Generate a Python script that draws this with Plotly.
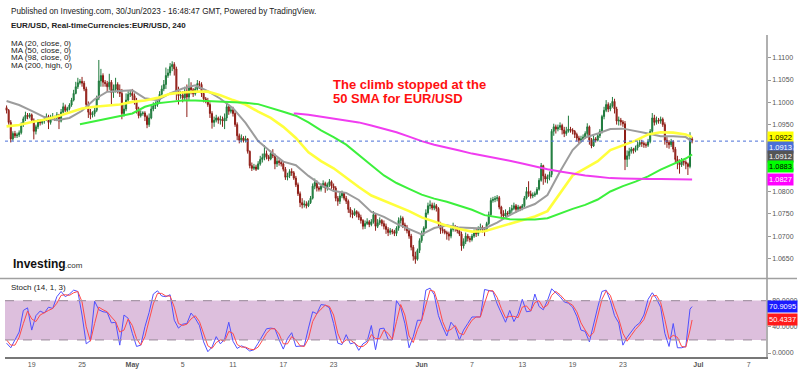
import pandas as pd
import plotly.graph_objects as go

# ---------------- data ----------------
first_open = 1.0988
closes = [
    1.0982, 1.0955, 1.0918, 1.0930, 1.0925, 1.0927,  # Apr 17
    1.0932, 1.0950, 1.0963, 1.0971, 1.0968, 1.0972,
    1.0960, 1.0935, 1.0945, 1.0958, 1.0954, 1.0958,
    1.0962, 1.0968, 1.0955, 1.0966, 1.0968, 1.0965,
    1.0972, 1.0958, 1.0978, 1.0990, 1.0982, 1.0986,
    1.0994, 1.1005, 1.1020, 1.1035, 1.1044, 1.1047,  # Apr 24
    1.1043, 1.1030, 1.0995, 1.0978, 1.0972, 1.0975,
    1.0982, 1.1010, 1.1048, 1.1060, 1.1045, 1.1042,
    1.1035, 1.1045, 1.1022, 1.1030, 1.1040, 1.1028,
    1.1020, 1.0975, 1.0985, 1.1005, 1.1018, 1.1020,
    1.1015, 1.1005, 1.0985, 1.0970, 1.0975, 1.0976,  # May 1
    1.0968, 1.0950, 1.0965, 1.0985, 1.0992, 1.0995,
    1.1005, 1.1018, 1.1030, 1.1040, 1.1060, 1.1066,
    1.1080, 1.1085, 1.1075, 1.1025, 1.1015, 1.1016,
    1.1010, 1.1025, 1.1012, 1.1035, 1.1028, 1.1019,
    1.1030, 1.1042, 1.1040, 1.1020, 1.1008, 1.1004,  # May 8
    1.0995, 1.0975, 1.0955, 1.0960, 1.0965, 1.0960,
    1.0962, 1.0958, 1.0965, 1.0990, 1.0980, 1.0983,
    1.0975, 1.0950, 1.0925, 1.0915, 1.0920, 1.0914,
    1.0918, 1.0890, 1.0858, 1.0852, 1.0855, 1.0850,
    1.0862, 1.0872, 1.0876, 1.0885, 1.0878, 1.0873,  # May 15
    1.0885, 1.0880, 1.0862, 1.0868, 1.0865, 1.0862,
    1.0850, 1.0832, 1.0835, 1.0845, 1.0842, 1.0830,
    1.0815, 1.0795, 1.0775, 1.0770, 1.0772, 1.0768,
    1.0775, 1.0785, 1.0812, 1.0820, 1.0808, 1.0805,
    1.0812, 1.0818, 1.0808, 1.0815, 1.0822, 1.0812,  # May 22
    1.0808, 1.0785, 1.0778, 1.0790, 1.0796, 1.0785,
    1.0778, 1.0760, 1.0752, 1.0748, 1.0755, 1.0750,
    1.0742, 1.0735, 1.0722, 1.0728, 1.0732, 1.0726,
    1.0732, 1.0748, 1.0722, 1.0730, 1.0735, 1.0728,
    1.0722, 1.0715, 1.0708, 1.0712, 1.0710, 1.0706,  # May 29
    1.0718, 1.0735, 1.0740, 1.0725, 1.0720, 1.0712,
    1.0700, 1.0675, 1.0655, 1.0648, 1.0668, 1.0690,
    1.0705, 1.0718, 1.0752, 1.0768, 1.0770, 1.0763,
    1.0768, 1.0762, 1.0728, 1.0715, 1.0712, 1.0708,
    1.0705, 1.0700, 1.0715, 1.0722, 1.0718, 1.0712,  # Jun 5
    1.0705, 1.0678, 1.0688, 1.0700, 1.0695, 1.0692,
    1.0700, 1.0710, 1.0705, 1.0715, 1.0720, 1.0715,
    1.0712, 1.0728, 1.0748, 1.0780, 1.0782, 1.0784,
    1.0786, 1.0765, 1.0750, 1.0745, 1.0752, 1.0750,
    1.0758, 1.0762, 1.0768, 1.0760, 1.0765, 1.0762,  # Jun 12
    1.0768, 1.0785, 1.0800, 1.0795, 1.0790, 1.0792,
    1.0795, 1.0805, 1.0825, 1.0858, 1.0835, 1.0828,
    1.0832, 1.0838, 1.0935, 1.0945, 1.0940, 1.0944,
    1.0948, 1.0938, 1.0930, 1.0935, 1.0940, 1.0938,
    1.0935, 1.0928, 1.0920, 1.0915, 1.0918, 1.0922,  # Jun 19
    1.0930, 1.0945, 1.0915, 1.0902, 1.0918, 1.0915,
    1.0925, 1.0935, 1.0968, 1.0982, 1.0995, 1.0985,
    1.0992, 1.1002, 1.0985, 1.0958, 1.0960, 1.0956,
    1.0952, 1.0872, 1.0880, 1.0890, 1.0895, 1.0892,
    1.0898, 1.0905, 1.0910, 1.0908, 1.0905, 1.0904,  # Jun 26
    1.0912, 1.0935, 1.0965, 1.0955, 1.0960, 1.0958,
    1.0962, 1.0950, 1.0915, 1.0910, 1.0905, 1.0912,
    1.0895, 1.0872, 1.0865, 1.0860, 1.0868, 1.0866,
    1.0862, 1.0856, 1.0918, 1.0913,                  # Jun 30
]
highs = [
    1.0993, 1.0985, 1.0960, 1.0935, 1.0936, 1.0932,
    1.0937, 1.0955, 1.0968, 1.0979, 1.0976, 1.0976,
    1.0975, 1.0964, 1.0950, 1.0962, 1.0962, 1.0962,
    1.0966, 1.0975, 1.0972, 1.0972, 1.0976, 1.0970,
    1.0978, 1.0974, 1.0985, 1.0999, 1.0995, 1.0990,
    1.0998, 1.1010, 1.1028, 1.1046, 1.1055, 1.1052,
    1.1057, 1.1048, 1.1035, 1.1002, 1.0985, 1.0980,
    1.0990, 1.1015, 1.1095, 1.1075, 1.1065, 1.1050,
    1.1048, 1.1064, 1.1050, 1.1040, 1.1055, 1.1045,
    1.1040, 1.1030, 1.0995, 1.1020, 1.1025, 1.1028,
    1.1030, 1.1020, 1.1010, 1.0990, 1.0982, 1.0980,
    1.0980, 1.0972, 1.0975, 1.0992, 1.1000, 1.1002,
    1.1010, 1.1025, 1.1038, 1.1050, 1.1078, 1.1075,
    1.1088, 1.1092, 1.1090, 1.1080, 1.1035, 1.1025,
    1.1025, 1.1035, 1.1040, 1.1054, 1.1045, 1.1032,
    1.1035, 1.1050, 1.1048, 1.1045, 1.1025, 1.1012,
    1.1010, 1.1000, 1.0980, 1.0968, 1.0972, 1.0968,
    1.0970, 1.0968, 1.0975, 1.1000, 1.0995, 1.0990,
    1.0990, 1.0980, 1.0955, 1.0930, 1.0928, 1.0924,
    1.0925, 1.0920, 1.0892, 1.0865, 1.0862, 1.0860,
    1.0868, 1.0880, 1.0885, 1.0904, 1.0892, 1.0882,
    1.0892, 1.0895, 1.0885, 1.0875, 1.0872, 1.0870,
    1.0868, 1.0855, 1.0842, 1.0850, 1.0852, 1.0846,
    1.0835, 1.0820, 1.0800, 1.0785, 1.0780, 1.0778,
    1.0780, 1.0790, 1.0818, 1.0829, 1.0825, 1.0812,
    1.0818, 1.0825, 1.0822, 1.0820, 1.0828, 1.0825,
    1.0818, 1.0812, 1.0790, 1.0798, 1.0802, 1.0798,
    1.0790, 1.0782, 1.0765, 1.0758, 1.0762, 1.0758,
    1.0755, 1.0748, 1.0738, 1.0735, 1.0740, 1.0736,
    1.0738, 1.0756, 1.0750, 1.0738, 1.0742, 1.0738,
    1.0735, 1.0728, 1.0720, 1.0718, 1.0716, 1.0714,
    1.0722, 1.0742, 1.0746, 1.0744, 1.0730, 1.0725,
    1.0715, 1.0705, 1.0680, 1.0665, 1.0672, 1.0695,
    1.0712, 1.0722, 1.0760, 1.0775, 1.0780, 1.0775,
    1.0775, 1.0772, 1.0765, 1.0732, 1.0722, 1.0716,
    1.0712, 1.0710, 1.0722, 1.0730, 1.0725, 1.0722,
    1.0720, 1.0710, 1.0695, 1.0708, 1.0705, 1.0700,
    1.0705, 1.0715, 1.0718, 1.0722, 1.0728, 1.0724,
    1.0720, 1.0732, 1.0755, 1.0786, 1.0788, 1.0790,
    1.0792, 1.0790, 1.0768, 1.0758, 1.0760, 1.0756,
    1.0765, 1.0770, 1.0775, 1.0772, 1.0770, 1.0768,
    1.0772, 1.0790, 1.0810, 1.0823, 1.0802, 1.0798,
    1.0800, 1.0810, 1.0830, 1.0864, 1.0860, 1.0840,
    1.0838, 1.0845, 1.0940, 1.0952, 1.0950, 1.0950,
    1.0955, 1.0952, 1.0945, 1.0945, 1.0970, 1.0945,
    1.0942, 1.0938, 1.0932, 1.0925, 1.0925, 1.0928,
    1.0935, 1.0953, 1.0948, 1.0920, 1.0925, 1.0922,
    1.0930, 1.0940, 1.0972, 1.0990, 1.1005, 1.1000,
    1.0998, 1.1012, 1.1008, 1.0990, 1.0968, 1.0965,
    1.0960, 1.0958, 1.0892, 1.0898, 1.0900, 1.0898,
    1.0903, 1.0912, 1.0918, 1.0916, 1.0912, 1.0910,
    1.0918, 1.0940, 1.0976, 1.0972, 1.0968, 1.0965,
    1.0968, 1.0966, 1.0955, 1.0922, 1.0915, 1.0918,
    1.0915, 1.0900, 1.0880, 1.0872, 1.0875, 1.0872,
    1.0870, 1.0865, 1.0933, 1.0922,
]
lows = [
    1.0975, 1.0950, 1.0910, 1.0914, 1.0920, 1.0920,
    1.0922, 1.0928, 1.0945, 1.0958, 1.0962, 1.0964,
    1.0955, 1.0917, 1.0928, 1.0940, 1.0948, 1.0950,
    1.0952, 1.0958, 1.0940, 1.0950, 1.0960, 1.0958,
    1.0960, 1.0940, 1.0955, 1.0975, 1.0978, 1.0978,
    1.0982, 1.0990, 1.1002, 1.1018, 1.1030, 1.1040,
    1.1035, 1.1025, 1.0990, 1.0965, 1.0962, 1.0966,
    1.0968, 1.0978, 1.1005, 1.1035, 1.1035, 1.1035,
    1.1025, 1.1028, 1.0995, 1.1010, 1.1022, 1.1020,
    1.1012, 1.0962, 1.0968, 1.0980, 1.1000, 1.1012,
    1.1005, 1.0995, 1.0975, 1.0964, 1.0966, 1.0970,
    1.0958, 1.0942, 1.0945, 1.0962, 1.0980, 1.0985,
    1.0990, 1.1000, 1.1015, 1.1025, 1.1030, 1.1055,
    1.1060, 1.1070, 1.1060, 1.1005, 1.0995, 1.1008,
    1.1000, 1.1005, 1.0967, 1.1005, 1.1018, 1.1012,
    1.1015, 1.1025, 1.1030, 1.1012, 1.1000, 1.0998,
    1.0990, 1.0965, 1.0941, 1.0945, 1.0955, 1.0952,
    1.0950, 1.0945, 1.0940, 1.0958, 1.0972, 1.0975,
    1.0968, 1.0945, 1.0915, 1.0908, 1.0910, 1.0910,
    1.0910, 1.0885, 1.0852, 1.0846, 1.0848, 1.0846,
    1.0850, 1.0858, 1.0865, 1.0870, 1.0872, 1.0868,
    1.0870, 1.0875, 1.0850, 1.0855, 1.0858, 1.0856,
    1.0845, 1.0826, 1.0825, 1.0830, 1.0835, 1.0826,
    1.0810, 1.0790, 1.0765, 1.0762, 1.0764, 1.0762,
    1.0765, 1.0772, 1.0782, 1.0805, 1.0800, 1.0800,
    1.0800, 1.0808, 1.0797, 1.0802, 1.0810, 1.0806,
    1.0800, 1.0778, 1.0768, 1.0772, 1.0785, 1.0780,
    1.0772, 1.0752, 1.0742, 1.0740, 1.0745, 1.0742,
    1.0736, 1.0728, 1.0715, 1.0716, 1.0725, 1.0720,
    1.0722, 1.0728, 1.0712, 1.0718, 1.0725, 1.0722,
    1.0715, 1.0705, 1.0700, 1.0703, 1.0704, 1.0700,
    1.0700, 1.0712, 1.0728, 1.0718, 1.0712, 1.0706,
    1.0694, 1.0668, 1.0645, 1.0638, 1.0645, 1.0662,
    1.0685, 1.0700, 1.0715, 1.0748, 1.0760, 1.0758,
    1.0758, 1.0755, 1.0722, 1.0705, 1.0706, 1.0704,
    1.0692, 1.0690, 1.0695, 1.0710, 1.0710, 1.0706,
    1.0700, 1.0667, 1.0672, 1.0682, 1.0688, 1.0686,
    1.0688, 1.0696, 1.0698, 1.0700, 1.0710, 1.0708,
    1.0700, 1.0710, 1.0725, 1.0745, 1.0775, 1.0776,
    1.0778, 1.0760, 1.0742, 1.0738, 1.0742, 1.0745,
    1.0745, 1.0752, 1.0758, 1.0752, 1.0756, 1.0756,
    1.0758, 1.0765, 1.0782, 1.0788, 1.0784, 1.0785,
    1.0788, 1.0792, 1.0802, 1.0822, 1.0815, 1.0820,
    1.0818, 1.0825, 1.0832, 1.0925, 1.0930, 1.0935,
    1.0938, 1.0928, 1.0922, 1.0925, 1.0932, 1.0932,
    1.0928, 1.0920, 1.0912, 1.0908, 1.0910, 1.0915,
    1.0918, 1.0925, 1.0905, 1.0897, 1.0900, 1.0910,
    1.0912, 1.0920, 1.0930, 1.0962, 1.0978, 1.0978,
    1.0980, 1.0988, 1.0975, 1.0950, 1.0948, 1.0948,
    1.0945, 1.0848, 1.0855, 1.0872, 1.0885, 1.0885,
    1.0888, 1.0892, 1.0900, 1.0900, 1.0898, 1.0898,
    1.0900, 1.0908, 1.0930, 1.0948, 1.0950, 1.0952,
    1.0952, 1.0945, 1.0905, 1.0898, 1.0896, 1.0900,
    1.0888, 1.0865, 1.0850, 1.0840, 1.0855, 1.0858,
    1.0850, 1.0837, 1.0852, 1.0908,
]

# moving averages, one reading per trading day (+ last bar)
ma20 = [1.1003, 1.0994, 1.0981, 1.0967, 1.0960, 1.0965, 1.0981, 1.1007, 1.1024, 1.1025,
        1.1027, 1.1009, 1.1005, 1.1020, 1.1031, 1.1038, 1.1025, 1.1008, 1.0987, 1.0954,
        1.0913, 1.0889, 1.0867, 1.0859, 1.0835, 1.0815, 1.0801, 1.0797, 1.0781, 1.0754,
        1.0743, 1.0728, 1.0716, 1.0704, 1.0718, 1.0724, 1.0719, 1.0718, 1.0717, 1.0730,
        1.0747, 1.0761, 1.0772, 1.0792, 1.0845, 1.0893, 1.0921, 1.0930, 1.0940, 1.0941,
        1.0936, 1.0930, 1.0924, 1.0924, 1.0922, 1.0912]
ma50 = [1.0946, 1.0949, 1.0956, 1.0961, 1.0968, 1.0977, 1.0986, 1.0990, 1.0992, 1.0995,
        1.1001, 1.1004, 1.1010, 1.1019, 1.1022, 1.1024, 1.1024, 1.1016, 1.1005, 1.0995,
        1.0979, 1.0965, 1.0945, 1.0920, 1.0888, 1.0868, 1.0852, 1.0830, 1.0810, 1.0791,
        1.0779, 1.0768, 1.0756, 1.0742, 1.0732, 1.0723, 1.0716, 1.0710, 1.0711, 1.0719,
        1.0727, 1.0735, 1.0744, 1.0756, 1.0797, 1.0836, 1.0852, 1.0868, 1.0893, 1.0904,
        1.0914, 1.0928, 1.0933, 1.0932, 1.0928, 1.0922]
ma98 = [1.0951, 1.0952, 1.0958, 1.0963, 1.0969, 1.0975, 1.0990, 1.0998, 1.1001, 1.1004,
        1.1004, 1.1003, 1.1001, 1.1001, 1.0999, 1.0996, 1.0988, 1.0979, 1.0970, 1.0955,
        1.0937, 1.0922, 1.0905, 1.0883, 1.0859, 1.0836, 1.0819, 1.0806, 1.0793, 1.0784,
        1.0777, 1.0768, 1.0759, 1.0747, 1.0743, 1.0738, 1.0737, 1.0737, 1.0740, 1.0751,
        1.0761, 1.0770, 1.0782, 1.0800, 1.0812, 1.0822, 1.0834, 1.0849, 1.0861, 1.0874,
        1.0883]
ma200 = [1.0975, 1.0975, 1.0972, 1.0968, 1.0964, 1.0960, 1.0955, 1.0948, 1.0941, 1.0933,
         1.0923, 1.0913, 1.0905, 1.0899, 1.0892, 1.0885, 1.0880, 1.0874, 1.0869, 1.0863,
         1.0856, 1.0850, 1.0845, 1.0840, 1.0836, 1.0833, 1.0830, 1.0829, 1.0828, 1.0828,
         1.0828, 1.0827, 1.0827, 1.0827]

# stochastic (14,1,3), read every second bar (+ last bar)
stoch_k = [15, 8, 20, 32, 65, 69, 35, 57, 64, 61,
           70, 68, 86, 94, 86, 90, 96, 94, 58, 14,
           19, 79, 66, 63, 62, 46, 47, 12, 58, 53,
           30, 10, 12, 40, 62, 90, 95, 87, 86, 89,
           50, 38, 44, 45, 61, 53, 42, 17, 2, 9,
           25, 14, 21, 47, 18, 7, 11, 8, 3, 5,
           15, 25, 37, 38, 37, 20, 6, 22, 31, 10,
           10, 11, 38, 63, 60, 74, 73, 69, 45, 15,
           13, 28, 14, 16, 4, 14, 18, 42, 5, 37,
           38, 21, 20, 80, 70, 45, 8, 25, 50, 50,
           96, 99, 89, 57, 40, 26, 47, 39, 20, 35,
           45, 55, 55, 55, 97, 96, 94, 75, 60, 47,
           65, 48, 60, 82, 63, 64, 90, 71, 66, 80,
           98, 92, 86, 78, 76, 70, 56, 35, 33, 17,
           45, 70, 94, 96, 80, 57, 46, 12, 24, 32,
           41, 46, 58, 82, 92, 83, 70, 30, 10, 45,
           8, 8, 10, 67, 70.9095]
stoch_d = [20, 12, 12, 24, 45, 64, 52, 48, 58, 62,
           65, 68, 76, 88, 89, 88, 92, 94, 78, 40,
           18, 45, 70, 66, 63, 55, 48, 32, 35, 52,
           42, 22, 12, 25, 50, 75, 91, 91, 87, 87,
           70, 45, 42, 44, 52, 57, 48, 30, 11, 7,
           16, 20, 18, 33, 30, 13, 9, 9, 6, 5,
           9, 19, 30, 37, 37, 29, 14, 14, 25, 20,
           11, 10, 22, 48, 60, 67, 73, 71, 58, 30,
           15, 20, 20, 15, 10, 10, 15, 28, 22, 22,
           35, 30, 21, 48, 74, 58, 26, 16, 36, 50,
           72, 96, 94, 74, 48, 33, 36, 42, 30, 28,
           40, 50, 55, 55, 76, 95, 95, 85, 68, 54,
           56, 56, 54, 70, 72, 64, 77, 80, 69, 73,
           88, 94, 89, 82, 77, 73, 63, 46, 35, 25,
           31, 56, 82, 95, 88, 69, 52, 30, 18, 27,
           36, 43, 51, 69, 87, 88, 77, 51, 22, 27,
           24, 10, 9, 35, 50.4337]

tick_dates = ["2023-04-19", "2023-04-25", "2023-05-01", "2023-05-05", "2023-05-11",
              "2023-05-17", "2023-05-23", "2023-06-01", "2023-06-07", "2023-06-13",
              "2023-06-19", "2023-06-23", "2023-07-03", "2023-07-07"]
tick_text = ["19", "25", "<b>May</b>", "5", "11", "17", "23", "<b>Jun</b>", "7", "13",
             "19", "23", "<b>Jul</b>", "7"]
price_ticks = [1.065, 1.070, 1.075, 1.080, 1.085, 1.090, 1.095, 1.100, 1.105, 1.110]
stoch_ticks = [0, 40, 80]

# ---------------- time axis of the 4h bars ----------------
days = pd.bdate_range("2023-04-17", "2023-06-30")
times = [d + pd.Timedelta(hours=4 * j) for d in days for j in range(6)][:len(closes)]
opens = [first_open] + closes[:-1]
hi = [max(h, o, c) for h, o, c in zip(highs, opens, closes)]
lo = [min(l, o, c) for l, o, c in zip(lows, opens, closes)]

ma_x = times[0::6] + [times[-1]]
ma98_x = [times[35]] + times[36::6] + [times[-1]]
ma200_x = [times[137]] + times[138::6] + [times[-1]]
stoch_x = times[0::2] + [times[-1]]

FONT = "Liberation Sans, Arial, sans-serif"

fig = go.Figure()
fig.add_trace(go.Candlestick(
    x=times, open=opens, high=hi, low=lo, close=closes,
    increasing=dict(line=dict(color="#1f7a3c", width=1), fillcolor="#23894a"),
    decreasing=dict(line=dict(color="#8e1d16", width=1), fillcolor="#b3342a"),
    whiskerwidth=0, showlegend=False, xaxis="x", yaxis="y", hoverinfo="skip"))

for xs, ys, col, w in [(ma_x, ma20, "#9c9c9c", 2),
                       (ma_x, ma50, "#ffff3c", 2.6),
                       (ma98_x, ma98, "#3cf03c", 2),
                       (ma200_x, ma200, "#f03cf0", 2)]:
    fig.add_trace(go.Scatter(x=xs, y=ys, mode="lines", line=dict(color=col, width=w),
                             showlegend=False, xaxis="x", yaxis="y", hoverinfo="skip"))

fig.add_trace(go.Scatter(x=stoch_x, y=stoch_k, mode="lines",
                         line=dict(color="#5050ff", width=1), showlegend=False,
                         xaxis="x", yaxis="y2", hoverinfo="skip"))
fig.add_trace(go.Scatter(x=stoch_x, y=stoch_d, mode="lines",
                         line=dict(color="#ff4a4a", width=1), showlegend=False,
                         xaxis="x", yaxis="y2", hoverinfo="skip"))

# ---------------- layout ----------------
L, R, T, B = 5, 34, 35, 15
W, H = 800, 372
PW, PH = W - L - R, H - T - B


def px(x):
    return (x - L) / PW


def py(y):
    return (H - B - y) / PH


fig.update_layout(
    width=W, height=H, margin=dict(l=L, r=R, t=T, b=B),
    paper_bgcolor="white", plot_bgcolor="white", showlegend=False,
    font=dict(family=FONT, color="#333"),
    xaxis=dict(type="date", range=["2023-04-14 21:00", "2023-07-10 09:00"],
               rangebreaks=[dict(bounds=["sat", "mon"])],
               rangeslider=dict(visible=False), anchor="y2",
               showgrid=False, zeroline=False, tickvals=tick_dates, ticktext=tick_text,
               ticks="", tickfont=dict(size=7, color="#555", family=FONT),
               showline=True, linecolor="#777", linewidth=1.5, automargin=False),
    yaxis=dict(domain=[py(278), 1], range=[1.0606, 1.1151], side="right",
               showgrid=False, zeroline=False, tickvals=price_ticks,
               ticktext=[f"{v:.4f}" for v in price_ticks], ticks="outside", ticklen=3,
               tickcolor="#999", tickfont=dict(size=7, color="#555", family=FONT),
               showline=True, linecolor="#b0b0b0", linewidth=1.5, automargin=False),
    yaxis2=dict(domain=[0, py(279)], range=[-6.1, 113], side="right",
                showgrid=False, zeroline=False, tickvals=stoch_ticks,
                ticktext=[f"{v:.4f}" for v in stoch_ticks], ticks="outside", ticklen=3,
                tickcolor="#999", tickfont=dict(size=7, color="#555", family=FONT),
                showline=True, linecolor="#b0b0b0", linewidth=1.5, automargin=False),
)

shapes = [
    # stochastic band 20..80
    dict(type="rect", xref="x domain", yref="y2", x0=0, x1=1, y0=20, y1=80,
         fillcolor="#ddbfdd", line=dict(width=0), layer="below"),
    dict(type="line", xref="x domain", yref="y2", x0=0, x1=1, y0=80, y1=80,
         line=dict(color="#a898a8", width=1.2, dash="dash")),
    dict(type="line", xref="x domain", yref="y2", x0=0, x1=1, y0=20, y1=20,
         line=dict(color="#a898a8", width=1.2, dash="dash")),
    # current price line
    dict(type="line", xref="x domain", yref="y", x0=0, x1=1, y0=closes[-1], y1=closes[-1],
         line=dict(color="#4a6fd8", width=1, dash="dot")),
    # panel separator
    dict(type="line", xref="paper", yref="paper", x0=px(0), x1=px(797), y0=py(278.5),
         y1=py(278.5), line=dict(color="#a0a0a0", width=1.5)),
]
fig.update_layout(shapes=shapes)

ann = []


def text(x, y, s, size=8, color="#222", xanchor="left", yanchor="middle", **kw):
    ann.append(dict(xref="paper", yref="paper", x=px(x), y=py(y), text=s, showarrow=False,
                    xanchor=xanchor, yanchor=yanchor,
                    font=dict(size=size, color=color, family=FONT), **kw))


text(9, 11.5, "Published on Investing.com, 30/Jun/2023 - 16:48:47 GMT, Powered by TradingView.",
     size=8.2)
text(9, 25, "<b>EUR/USD, Real-timeCurrencies:EUR/USD, 240</b>")
for i, s in enumerate(["MA (20, close, 0)", "MA (50, close, 0)",
                       "MA (98, close, 0)", "MA (200, high, 0)"]):
    text(9, 43.5 + 7.2 * i, s)
text(11, 264, "<b>Investing</b>", size=12, color="#111")
text(63, 265.5, ".com", size=8, color="#333")
text(9, 287.5, "Stoch (14, 1, 3)")
text(331, 84, "<b>The climb stopped at the</b>", size=13, color="#ff1010")
text(331, 98.5, "<b>50 SMA for EUR/USD</b>", size=13, color="#ff1010")

# value labels on the right axis
labels = [
    ("y", ma50[-1], "#ffff00", "#000", 0),
    ("y", closes[-1], "#4a6fd8", "#fff", -6),
    ("y", ma20[-1], "#555555", "#fff", -15),
    ("y", ma98[-1], "#00ff00", "#000", -12),
    ("y", ma200[-1], "#ff00ff", "#fff", 0),
    ("y2", stoch_k[-1], "#1a1aff", "#fff", 0),
    ("y2", stoch_d[-1], "#ff1a1a", "#fff", 0),
]
for yref, v, bg, fg, shift in labels:
    ann.append(dict(xref="paper", yref=yref, x=1, y=v, yshift=shift, xshift=1,
                    text=f"{v:.4f}", showarrow=False, xanchor="left", yanchor="middle",
                    bgcolor=bg, borderpad=1,
                    font=dict(size=7.5, color=fg, family=FONT)))

fig.update_layout(annotations=ann)
fig.write_html("out.html", config={"displayModeBar": False},
               post_script="document.body.style.margin='0';document.body.style.padding='0';")
